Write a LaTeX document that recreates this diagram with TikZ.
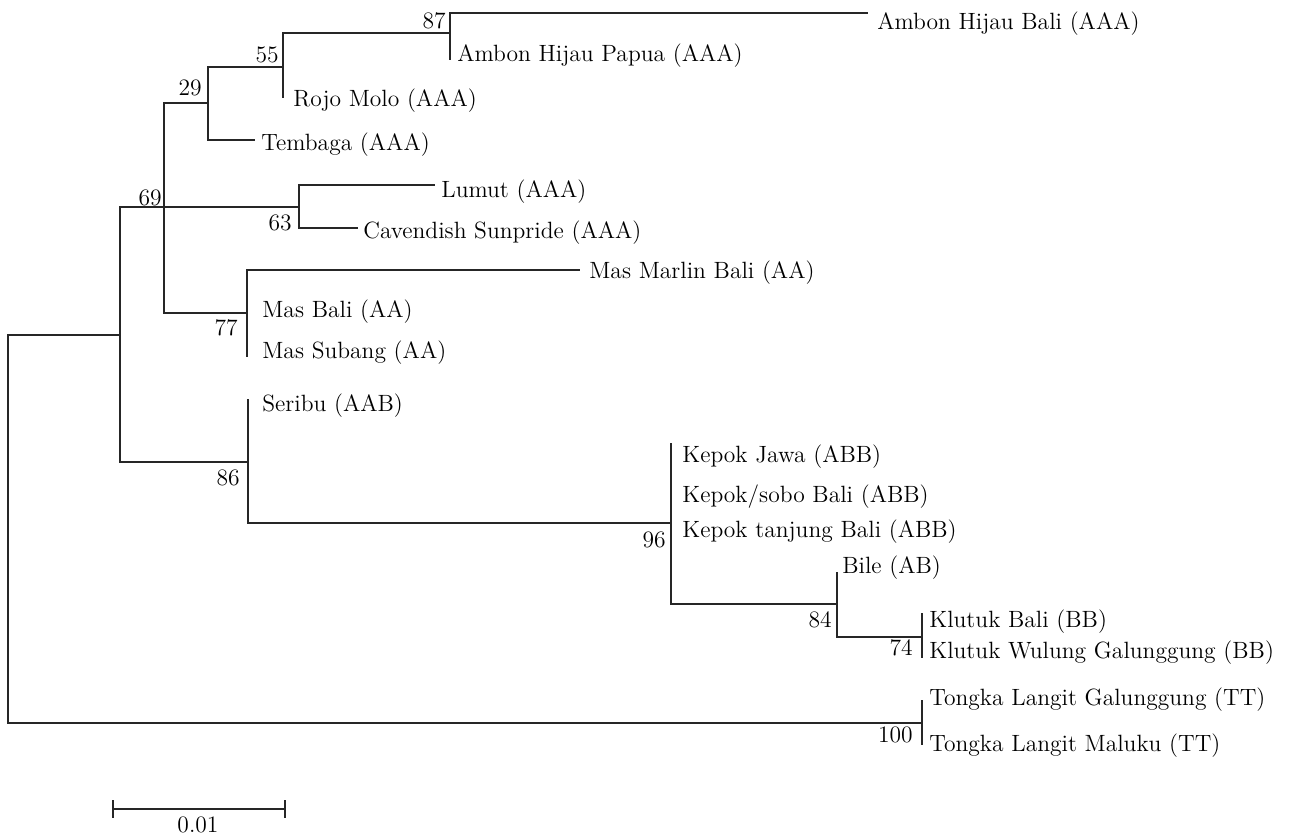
\documentclass[tikz,border=0pt]{standalone}
\usepackage{amsmath}
\usetikzlibrary{calc, positioning}

\tikzset{
  branch/.style={line width=0.9pt, black!85},
  taxon/.style={anchor=base west, inner sep=0pt, font=\fontsize{13.4}{16}\selectfont},
  boot/.style={anchor=base east, inner sep=0pt, font=\fontsize{13.4}{16}\selectfont},
}

\begin{document}
\begin{tikzpicture}[x=0.02cm, y=-0.02cm]
\useasboundingbox (0,0) rectangle (1304,836);

% internal nodes
\coordinate (root) at (8,529);
\coordinate (n120) at (120,335);
\coordinate (n69) at (164,207);
\coordinate (n29) at (208,103);
\coordinate (n55) at (283,67);
\coordinate (n87) at (450,33);
\coordinate (n63) at (299,207);
\coordinate (n77) at (247,313);
\coordinate (n86) at (248,462);
\coordinate (n96) at (671,523);
\coordinate (n84) at (837,604);
\coordinate (n74) at (922,637);
\coordinate (n100) at (922,723);

% leaf tips
\coordinate (ambonbali) at (868,13);
\coordinate (ambonpapua) at (450,60);
\coordinate (rojomolo) at (283,98);
\coordinate (tembaga) at (255,140);
\coordinate (lumut) at (435,185);
\coordinate (cavendish) at (358,228);
\coordinate (masmarlin) at (580,270);
\coordinate (masbali) at (247,313);
\coordinate (massubang) at (247,357);
\coordinate (seribu) at (248,399);
\coordinate (kepokjawa) at (671,443);
\coordinate (kepoksobo) at (671,492);
\coordinate (kepoktanjung) at (671,523);
\coordinate (bile) at (837,572);
\coordinate (klutukbali) at (922,613);
\coordinate (klutukwulung) at (922,658);
\coordinate (tongkagal) at (922,700);
\coordinate (tongkamal) at (922,745);

% branches
\draw[branch] (root) |- (n120);
\draw[branch] (root) |- (n100);
\draw[branch] (n120) |- (n69);
\draw[branch] (n120) |- (n86);
\draw[branch] (n69) |- (n29);
\draw[branch] (n69) -- (n63);
\draw[branch] (n69) |- (n77);
\draw[branch] (n29) |- (n55);
\draw[branch] (n29) |- (tembaga);
\draw[branch] (n55) |- (n87);
\draw[branch] (n55) -- (rojomolo);
\draw[branch] (n87) |- (ambonbali);
\draw[branch] (n87) -- (ambonpapua);
\draw[branch] (n63) |- (lumut);
\draw[branch] (n63) |- (cavendish);
\draw[branch] (n77) |- (masmarlin);
\draw[branch] (n77) -- (massubang);
\draw[branch] (n86) -- (seribu);
\draw[branch] (n86) |- (n96);
\draw[branch] (n96) -- (kepokjawa);
\draw[branch] (n96) |- (n84);
\draw[branch] (n84) -- (bile);
\draw[branch] (n84) |- (n74);
\draw[branch] (n74) -- (klutukbali);
\draw[branch] (n74) -- (klutukwulung);
\draw[branch] (n100) -- (tongkagal);
\draw[branch] (n100) -- (tongkamal);

% taxa
\node[taxon] (tAmbonBali) at (877,29) {Ambon Hijau Bali (AAA)};
\node[taxon] (tAmbonPapua) at (457,61) {Ambon Hijau Papua (AAA)};
\node[taxon] (tRojoMolo) at (293,106) {Rojo Molo (AAA)};
\node[taxon] (tTembaga) at (261,150) {Tembaga (AAA)};
\node[taxon] (tLumut) at (441,197) {Lumut (AAA)};
\node[taxon] (tCavendish) at (363,238) {Cavendish Sunpride (AAA)};
\node[taxon] (tMasMarlin) at (589,278) {Mas Marlin Bali (AA)};
\node[taxon] (tMasBali) at (262,317) {Mas Bali (AA)};
\node[taxon] (tMasSubang) at (262,358) {Mas Subang (AA)};
\node[taxon] (tSeribu) at (262,411) {Seribu (AAB)};
\node[taxon] (tKepokJawa) at (682,462) {Kepok Jawa (ABB)};
\node[taxon] (tKepokSobo) at (682,502) {Kepok/sobo Bali (ABB)};
\node[taxon] (tKepokTanjung) at (682,537) {Kepok tanjung Bali (ABB)};
\node[taxon] (tBile) at (842,573) {Bile (AB)};
\node[taxon] (tKlutukBali) at (929,627) {Klutuk Bali (BB)};
\node[taxon] (tKlutukWulung) at (929,658) {Klutuk Wulung Galunggung (BB)};
\node[taxon] (tTongkaGal) at (929,705) {Tongka Langit Galunggung (TT)};
\node[taxon] (tTongkaMal) at (929,751) {Tongka Langit Maluku (TT)};

% bootstrap values
\node[boot] (b87) at (446,28) {87};
\node[boot] (b55) at (279,62) {55};
\node[boot] (b29) at (202,95) {29};
\node[boot] (b69) at (162,205) {69};
\node[boot] (b63) at (292,230) {63};
\node[boot] (b77) at (238,335) {77};
\node[boot] (b86) at (240,485) {86};
\node[boot] (b96) at (666,547) {96};
\node[boot] (b84) at (832,627) {84};
\node[boot] (b74) at (913,655) {74};
\node[boot] (b100) at (913,742) {100};

% scale bar
\coordinate (sbL) at (113,809);
\coordinate (sbR) at (285,809);
\draw[branch] (sbL) -- (sbR);
\draw[branch] (sbL) ++(0,-9) -- ++(0,18);
\draw[branch] (sbR) ++(0,-9) -- ++(0,18);
\node[taxon, anchor=base] (sbLabel) at (198,832) {0.01};
\end{tikzpicture}
\end{document}
